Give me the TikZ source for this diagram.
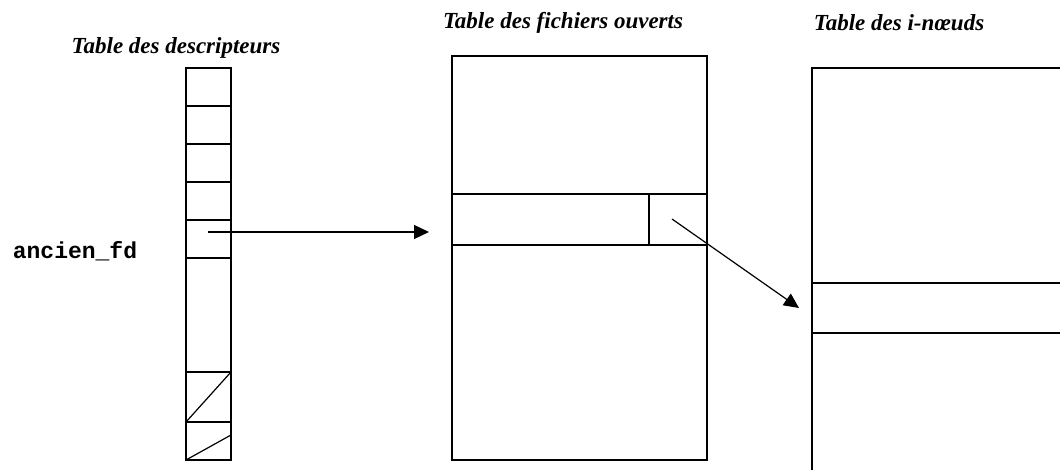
\documentclass[tikz,border=0pt]{standalone}
\usepackage{fontspec}
\setmainfont{Liberation Serif}
\setmonofont{Liberation Mono}
\usetikzlibrary{arrows.meta}
\begin{document}
\begin{tikzpicture}[x=1pt,y=-1pt,line width=1.2pt,
  title/.style={font=\fontsize{23}{26}\selectfont\bfseries\itshape,inner sep=0pt},
  lbl/.style={font=\fontsize{23}{26}\selectfont\ttfamily\bfseries,inner sep=0pt},
  ptr/.style={-{Triangle[length=15pt,width=14pt]},line width=1.2pt}]
\useasboundingbox (0,0) rectangle (1060,470);
\clip (0,0) rectangle (1060,470);
% titles
\node[title] (t1) at (176,48) {Table des descripteurs};
\node[title] (t2) at (563,23) {Table des fichiers ouverts};
\node[title] (t3) at (899,23) {Table des i-nœuds};
\node[lbl] (fd) at (75,251) {ancien\_fd};
% descriptor table
\draw (186,68) rectangle (231,460);
\foreach \yy in {106,144,182,220,258,372,422} \draw (186,\yy) -- (231,\yy);
\draw (186,422) -- (231,372);
\draw (186,460) -- (231,435);
% open files table
\draw (452,56) rectangle (707,460);
\draw (452,194) -- (707,194);
\draw (452,245) -- (707,245);
\draw (649,194) -- (649,245);
% inode table
\draw (812,500) -- (812,68) -- (1070,68);
\draw (812,283) -- (1070,283);
\draw (812,333) -- (1070,333);
% connectors
\coordinate (a1) at (208,232);
\coordinate (b1) at (429,232);
\coordinate (a2) at (672,219);
\coordinate (b2) at (799,308);
\draw[ptr] (a1) -- (b1);
\draw[ptr] (a2) -- (b2);
\end{tikzpicture}
\end{document}
